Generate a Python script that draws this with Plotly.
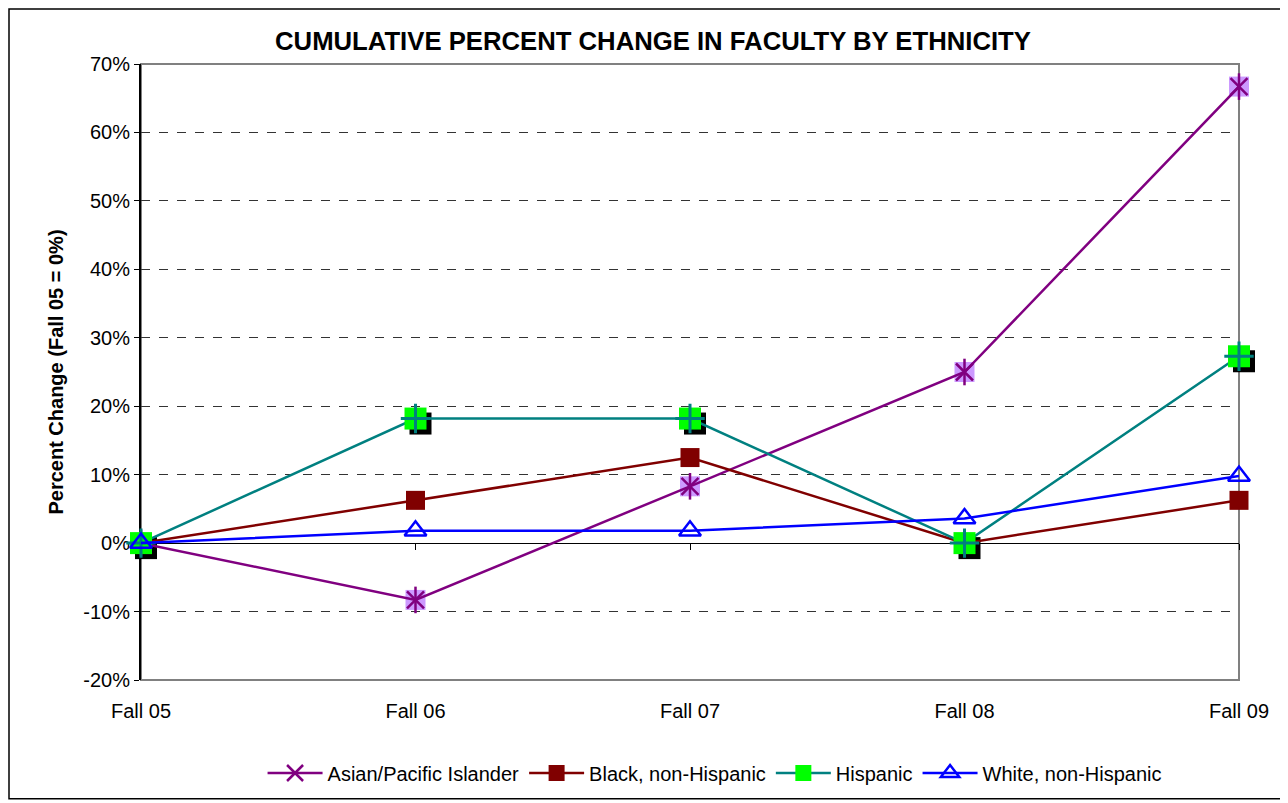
import plotly.graph_objects as go

seasons = ["Fall 05", "Fall 06", "Fall 07", "Fall 08", "Fall 09"]

asian = [0.0, -8.3, 8.3, 25.0, 66.7]
black = [0.0, 6.25, 12.5, 0.0, 6.25]
hispanic = [0.0, 18.2, 18.2, 0.0, 27.3]
white = [0.0, 1.8, 1.8, 3.6, 9.8]

y_ticks = [-20, -10, 0, 10, 20, 30, 40, 50, 60, 70]
y_labels = [f"{v}%" for v in y_ticks]

# the page body has an 8px margin, so the figure is 8px smaller than the window
FW, FH = 1280, 795
W, H = 1103, 622          # plot area incl. 5px shadow offset
L, T = 133, 56
dx = 5 / W
dy = 5 / H
font = "Liberation Sans, Arial, sans-serif"

fig = go.Figure()

# base axes: grid + frame only
fig.add_trace(go.Scatter(x=seasons, y=[None] * 5, mode="lines", showlegend=False,
                         hoverinfo="skip", xaxis="x", yaxis="y"))

# shadow of the hispanic markers (own, shifted subplot)
fig.add_trace(go.Scatter(x=seasons, y=hispanic, mode="markers", showlegend=False,
                         marker=dict(symbol="square", size=22, color="black"),
                         cliponaxis=False, hoverinfo="skip", xaxis="x2", yaxis="y2"))

# series
fig.add_trace(go.Scatter(x=seasons, y=asian, mode="markers", showlegend=False,
                         marker=dict(symbol="square", size=20, color="#CC99FF"),
                         cliponaxis=False, hoverinfo="skip", xaxis="x3", yaxis="y3"))
fig.add_trace(go.Scatter(x=seasons, y=asian, mode="markers", showlegend=False,
                         marker=dict(symbol="line-ns-open", size=19, color="#800080",
                                     line=dict(color="#800080", width=2.5)),
                         cliponaxis=False, hoverinfo="skip", xaxis="x3", yaxis="y3"))
fig.add_trace(go.Scatter(x=seasons, y=asian, mode="lines+markers", name="Asian/Pacific Islander",
                         line=dict(color="#800080", width=2.5),
                         marker=dict(symbol="x-thin-open", size=17, color="#800080",
                                     line=dict(color="#800080", width=2.5)),
                         cliponaxis=False, xaxis="x3", yaxis="y3"))
fig.add_trace(go.Scatter(x=seasons, y=black, mode="lines+markers", name="Black, non-Hispanic",
                         line=dict(color="#800000", width=2.5),
                         marker=dict(symbol="square", size=19, color="#800000"),
                         cliponaxis=False, xaxis="x3", yaxis="y3"))
fig.add_trace(go.Scatter(x=seasons, y=hispanic, mode="lines+markers", name="Hispanic",
                         line=dict(color="#008080", width=2.5),
                         marker=dict(symbol="square", size=22, color="#00FF00"),
                         cliponaxis=False, xaxis="x3", yaxis="y3"))
fig.add_trace(go.Scatter(x=seasons, y=hispanic, mode="markers", showlegend=False,
                         marker=dict(symbol="cross-thin-open", size=21, color="#008080",
                                     line=dict(color="#008080", width=3)),
                         cliponaxis=False, hoverinfo="skip", xaxis="x3", yaxis="y3"))
fig.add_trace(go.Scatter(x=seasons, y=white, mode="lines+markers", name="White, non-Hispanic",
                         line=dict(color="#0000FF", width=2.5),
                         marker=dict(symbol="triangle-up-open", size=19, color="#0000FF",
                                     line=dict(color="#0000FF", width=2.5)),
                         cliponaxis=False, xaxis="x3", yaxis="y3"))

# tick marks on the zero line
fig.add_trace(go.Scatter(x=seasons, y=[None] * 5, mode="lines", showlegend=False,
                         hoverinfo="skip", xaxis="x4", yaxis="y"))

yrange = [-20, 70]
hidden = dict(showgrid=False, zeroline=False, showticklabels=False, showline=False, ticks="")

# paper coords from figure pixels
def px(x):
    return (x - L) / W

def py(y):
    return (T + H - y) / H

fig.update_layout(
    width=FW, height=FH,
    margin=dict(l=L, r=FW - L - W, t=T, b=FH - T - H),
    paper_bgcolor="white", plot_bgcolor="rgba(0,0,0,0)",
    font=dict(family=font, size=20, color="black"),
    title=dict(text="<b>CUMULATIVE PERCENT CHANGE IN FACULTY BY ETHNICITY</b>",
               font=dict(size=25.7), xref="container", x=645 / FW, xanchor="center",
               yref="container", y=1 - 33 / FH, yanchor="middle"),
    xaxis=dict(type="category", domain=[0, 1 - dx], range=[0, 4], anchor="y",
               showgrid=False, zeroline=False, ticks="", ticklabelstandoff=17,
               tickfont=dict(size=20), showline=False),
    yaxis=dict(domain=[dy, 1], range=yrange, anchor="x", tickmode="array",
               tickvals=y_ticks, ticktext=y_labels,
               showgrid=True, gridcolor="#333333", griddash="dash",
               gridwidth=1, zeroline=True, zerolinecolor="black", zerolinewidth=1,
               showline=True, linecolor="black", linewidth=2, ticks="outside",
               ticklen=5, tickcolor="black", tickfont=dict(size=20),
               title=dict(text="<b>Percent Change (Fall 05 = 0%)</b>", font=dict(size=20),
                          standoff=14)),
    xaxis2=dict(type="category", domain=[dx, 1], range=[0, 4], anchor="y2", **hidden),
    yaxis2=dict(domain=[0, 1 - dy], range=yrange, anchor="x2", **hidden),
    xaxis3=dict(type="category", domain=[0, 1 - dx], range=[0, 4], anchor="y3", **hidden),
    yaxis3=dict(domain=[dy, 1], range=yrange, anchor="x3", **hidden),
    xaxis4=dict(type="category", domain=[0, 1 - dx], range=[0, 4], anchor="free",
                position=dy + (20 / 90) * (1 - dy), overlaying="x",
                showgrid=False, zeroline=False, showticklabels=False, showline=False,
                ticks="outside", ticklen=6, tickcolor="black", tickwidth=1),
    legend=dict(orientation="h", x=0.52, xanchor="center", y=py(765),
                yanchor="middle", font=dict(size=20), bgcolor="rgba(0,0,0,0)",
                itemwidth=55),
    showlegend=True,
    shapes=[
        dict(type="rect", xref="x domain", yref="y domain", x0=0, x1=1, y0=0, y1=1,
             line=dict(color="#808080", width=2), layer="below"),
        dict(type="rect", xref="paper", yref="paper",
             x0=px(1), x1=px(1277), y0=py(792), y1=py(1),
             line=dict(color="black", width=1.5)),
    ],
)

fig.write_html("out.html")
